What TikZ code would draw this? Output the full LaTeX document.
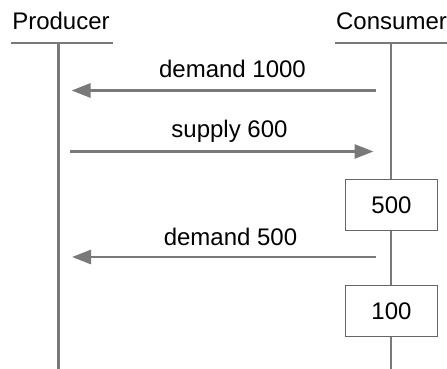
\documentclass[tikz,border=0pt]{standalone}
\usepackage{fontspec}
\setmainfont{Liberation Sans}
\usetikzlibrary{arrows.meta}
\begin{document}
\begin{tikzpicture}[x=1pt,y=1pt,
  lbl/.style={anchor=base,inner sep=0pt,font=\fontsize{24}{28}\selectfont},
  life/.style={draw=gray!95!black,line width=2.8pt},
  msg/.style={draw=gray!95!black,line width=2.8pt,-{Triangle[length=19pt,width=14pt]}},
  stepbox/.style={draw=gray!80!black,line width=1.1pt,fill=white,minimum width=92pt,minimum height=51pt,inner sep=0pt,font=\fontsize{24}{28}\selectfont}
]
\useasboundingbox (0,0) rectangle (447,369);
% headers
\node[lbl] (prod) at (61,339) {Producer};
\node[lbl] (cons) at (391.5,339) {Consumer};
\coordinate (ph1) at (11,326);
\coordinate (ph2) at (113,326);
\coordinate (ch1) at (335,326);
\coordinate (ch2) at (447,326);
\coordinate (pt) at (58.5,326);
\coordinate (pb) at (58.5,0);
\coordinate (ct) at (391,326);
\coordinate (cb) at (391,0);
\draw[life] (ph1) -- (ph2);
\draw[life] (ch1) -- (ch2);
\draw[life] (pt) -- (pb);
\draw[life] (ct) -- (cb);
% messages
\coordinate (m1s) at (375.5,278.5);
\coordinate (m1e) at (71.5,278.5);
\coordinate (m2s) at (69.5,217.5);
\coordinate (m2e) at (373.5,217.5);
\coordinate (m3s) at (375.5,112);
\coordinate (m3e) at (72,112);
\draw[msg] (m1s) -- (m1e);
\draw[msg] (m2s) -- (m2e);
\draw[msg] (m3s) -- (m3e);
\node[lbl] (l1) at (232.5,291.5) {demand 1000};
\node[lbl] (l2) at (229.5,231.5) {supply 600};
\node[lbl] (l3) at (230.5,123) {demand 500};
% boxes
\node[stepbox] (b1) at (391.5,164) {500};
\node[stepbox] (b2) at (391.5,58) {100};
\end{tikzpicture}
\end{document}
